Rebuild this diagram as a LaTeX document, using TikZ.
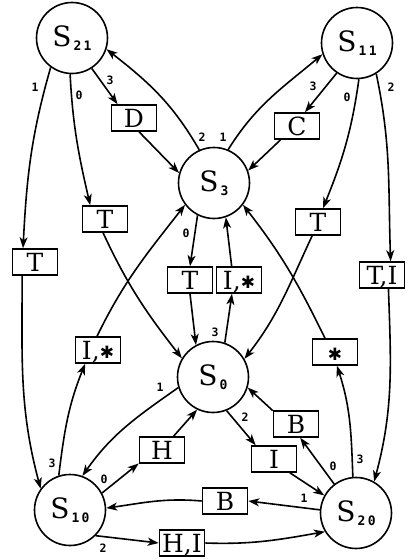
\documentclass[tikz,border=0pt]{standalone}
\usepackage{fontspec}
\newfontfamily\nodefont{DejaVu Serif}
\newfontfamily\digfont{DejaVu Sans Mono}
\newfontfamily\subfont{DejaVu Sans Mono}[LetterSpace=18]
\newfontfamily\symfont{DejaVu Sans}
\usetikzlibrary{arrows.meta}

% state name: roman S with a bold, slightly lowered index
\newcommand\stname[1]{S\kern2pt\raisebox{-3.5pt}{\subfont\bfseries\fontsize{13}{13}\selectfont #1}}
\newcommand\astr{{\symfont\fontsize{17}{17}\selectfont\raisebox{1pt}{✱}}}

\begin{document}
\begin{tikzpicture}[x=1pt,y=1pt,
  st/.style={circle, draw, line width=1.6pt, minimum size=71pt, inner sep=0pt,
             font=\nodefont\fontsize{28}{28}\selectfont},
  box/.style={draw, line width=1.6pt, minimum width=45pt, minimum height=26pt,
              inner sep=0pt, text height=18pt, text depth=0pt,
              font=\nodefont\fontsize{25}{25}\selectfont},
  arr/.style={line width=1.6pt, -{Stealth[length=11pt,width=8pt,inset=3pt]}},
  lbl/.style={font=\digfont\bfseries\fontsize{11.5}{11.5}\selectfont, inner sep=0pt}]
\useasboundingbox (0,0) rectangle (415,-560);

% states
\node[st] (S21) at (72,-38)   {\stname{21}};
\node[st] (S11) at (357,-43)  {\stname{11}};
\node[st] (S3)  at (214,-183) {\stname{3}};
\node[st] (S0)  at (213,-377) {\stname{0}};
\node[st] (S10) at (70,-510)  {\stname{10}};
\node[st] (S20) at (356,-513) {\stname{20}};

% output boxes
\node[box] (D)   at (134,-118) {D};
\node[box] (C)   at (297,-126) {C};
\node[box] (Tm)  at (105,-219) {T};
\node[box] (Tfl) at (35,-262)  {T};
\node[box] (Tr)  at (318,-222) {T};
\node[box] (TI)  at (382,-275) {T,I};
\node[box] (Tc)  at (190,-280) {T};
\node[box] (Ic)  at (239,-280) {I,\astr};
\node[box] (Il)  at (98,-350)  {I,\astr};
\node[box] (St)  at (335,-352) {\astr};
\node[box] (H)   at (162,-450) {H};
\node[box] (Bu)  at (296,-424) {B};
\node[box] (I)   at (274,-459) {I};
\node[box] (Bl)  at (225,-501) {B};
\node[box] (HI)  at (182,-543) {H,I};

% transitions out of S21 and S11
\draw[arr] (S21.-126) to[out=-106,in=87] (Tfl.131);
\draw[arr] (S21.-93) to[out=-87,in=103] (Tm.137);
\draw[arr] (S21.-57) -- (D.140);
\draw[arr] (D.-70) -- (S3.164);
\draw[arr] (S3.114) to[out=120,in=-38] (S21.-18);
\draw[arr] (S3.67) to[out=58,in=-140] (S11.198);
\draw[arr] (S11.-124) -- (C.60);
\draw[arr] (C.-140) -- (S3.20);
\draw[arr] (S11.-87) to[out=-98,in=68] (Tr.70);
\draw[arr] (S11.-58) to[out=-78,in=92] (TI.58);

% long links down the sides and the crossing pairs
\draw[arr] (Tfl.-133) to[out=-90,in=105] (S10.144);
\draw[arr] (Tm.-98) to[out=-65,in=128] (S0.149);
\draw[arr] (Il.94) to[out=64,in=-128] (S3.-143);
\draw[arr] (Tr.-113) to[out=-115,in=52] (S0.30);
\draw[arr] (St.126) to[out=116,in=-52] (S3.-37);
\draw[arr] (TI.-65) to[out=-88,in=75] (S20.60);
\draw[arr] (S20.95) to[out=92,in=-72] (St.-82);
\draw[arr] (S10.108) to[out=83,in=-112] (Il.-133);

% between S3 and S0
\draw[arr] (S3.-117) -- (Tc.north);
\draw[arr] (Tc.south) -- (S0.118);
\draw[arr] (S0.71) -- (Ic.-117);
\draw[arr] (Ic.118) -- (S3.-71);

% lower part
\draw[arr] (S0.197) to[out=215,in=55] (S10.70);
\draw[arr] (S10.28) -- (H.-150);
\draw[arr] (H.50) -- (S0.-116);
\draw[arr] (S0.-68) -- (I.143);
\draw[arr] (Bu.150) -- (S0.-17);
\draw[arr] (S20.127) -- (Bu.-73);
\draw[arr] (I.-41) -- (S20.151);
\draw[arr] (S20.175) -- (Bl.east);
\draw[arr] (Bl.west) to[out=175,in=8] (S10.3);
\draw[arr] (S10.-45) -- (HI.west);
\draw[arr] (HI.east) to[out=-2,in=190] (S20.-149);

% input labels
\node[lbl] (l1)  at (35,-87)   {1};
\node[lbl] (l2)  at (79,-95)   {0};
\node[lbl] (l3)  at (110,-80)  {3};
\node[lbl] (l4)  at (202,-137) {2};
\node[lbl] (l5)  at (223,-137) {1};
\node[lbl] (l6)  at (313,-86)  {3};
\node[lbl] (l7)  at (347,-97)  {0};
\node[lbl] (l8)  at (391,-87)  {2};
\node[lbl] (l9)  at (186,-233) {0};
\node[lbl] (l10) at (215,-332) {3};
\node[lbl] (l11) at (52,-463)  {3};
\node[lbl] (l12) at (160,-387) {1};
\node[lbl] (l13) at (104,-479) {0};
\node[lbl] (l14) at (103,-548) {2};
\node[lbl] (l15) at (245,-417) {2};
\node[lbl] (l16) at (333,-466) {0};
\node[lbl] (l17) at (360,-459) {3};
\node[lbl] (l18) at (304,-498) {1};
\end{tikzpicture}
\end{document}
